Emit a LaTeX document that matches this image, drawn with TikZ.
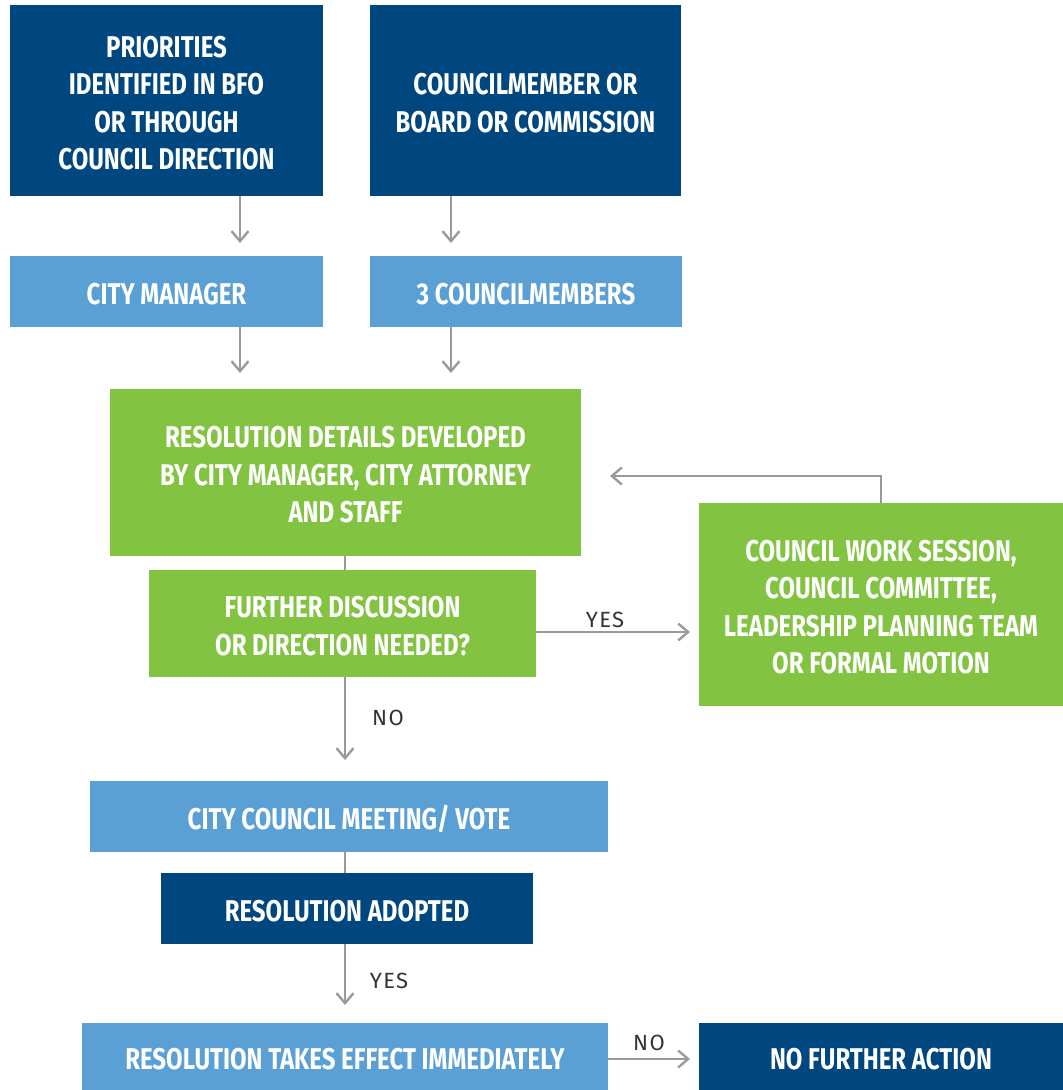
\documentclass[tikz,border=0pt]{standalone}
\usepackage{fontspec}
\setmainfont{Fira Sans}[FakeStretch=0.8]
\newfontfamily\notefont{Fira Sans}[LetterSpace=6]
\usetikzlibrary{arrows.meta}
\definecolor{navy}{HTML}{00467F}
\definecolor{sky}{HTML}{5AA0D5}
\definecolor{leaf}{HTML}{82C341}
\definecolor{wire}{HTML}{9A9A9A}
\definecolor{note}{HTML}{333333}
\tikzset{
  box/.style={rectangle, inner sep=0pt, outer sep=0pt, text=white, align=center,
    font=\bfseries\fontsize{30}{37.5}\selectfont},
  % text block of #1 lines (37.5pt pitch, cap height 20.7pt), set slightly below centre
  lines/.style={text height={(#1-1)*37.5pt+25.7pt}, text depth=0pt},
  navybox/.style={box, fill=navy},
  skybox/.style={box, fill=sky},
  leafbox/.style={box, fill=leaf},
  arr/.style={draw=wire, line width=2.4pt, -{Straight Barb[length=10pt,width=17pt,line width=2.4pt]}},
  link/.style={draw=wire, line width=2.4pt},
  lbl/.style={text=note, inner sep=0pt, font=\notefont\fontsize{22}{26}\selectfont}
}
\begin{document}
\begin{tikzpicture}[x=1pt,y=-1pt]
\useasboundingbox (0,0) rectangle (1063,1090);

% top row
\node[navybox, lines=4, minimum width=313pt, minimum height=191pt] (A) at (166.5,100.5)
  {PRIORITIES\\IDENTIFIED IN BFO\\OR THROUGH\\COUNCIL DIRECTION};
\node[navybox, lines=2, minimum width=311pt, minimum height=191pt] (B) at (525.5,100.5)
  {COUNCILMEMBER OR\\BOARD OR COMMISSION};

% second row
\node[skybox, lines=1, minimum width=313pt, minimum height=71pt] (C) at (166.5,291.5) {CITY MANAGER};
\node[skybox, lines=1, minimum width=312pt, minimum height=71pt] (D) at (526,291.5) {3 COUNCILMEMBERS};

% green block
\node[leafbox, lines=3, minimum width=471pt, minimum height=167pt] (E) at (345.5,472.5)
  {RESOLUTION DETAILS DEVELOPED\\BY CITY MANAGER, CITY ATTORNEY\\AND STAFF};
\node[leafbox, lines=2, minimum width=387pt, minimum height=107pt] (F) at (342.5,623.5)
  {FURTHER DISCUSSION\\OR DIRECTION NEEDED?};
\node[leafbox, lines=4, minimum width=364pt, minimum height=203pt] (G) at (881,604.5)
  {COUNCIL WORK SESSION,\\COUNCIL COMMITTEE,\\LEADERSHIP PLANNING TEAM\\OR FORMAL MOTION};

% lower chain
\node[skybox, lines=1, minimum width=518pt, minimum height=71pt] (H) at (349,816.5) {CITY COUNCIL MEETING/ VOTE};
\node[navybox, lines=1, minimum width=372pt, minimum height=71pt] (I) at (347,908.5) {RESOLUTION ADOPTED};
\node[skybox, lines=1, minimum width=526pt, minimum height=67pt] (J) at (345,1056.5) {RESOLUTION TAKES EFFECT IMMEDIATELY};
\node[navybox, lines=1, minimum width=364pt, minimum height=67pt] (K) at (881,1056.5) {NO FURTHER ACTION};

% arrow end points
\coordinate (ta) at (240,243);
\coordinate (tb) at (451,243);
\coordinate (ma) at (240,373);
\coordinate (mb) at (451,373);
\coordinate (back) at (610,476);
\coordinate (yes) at (690,632);
\coordinate (no) at (345,760);
\coordinate (adopt) at (345,1005);
\coordinate (stop) at (690,1059);

% connectors
\draw[arr] (ta |- A.south) -- (ta);
\draw[arr] (tb |- B.south) -- (tb);
\draw[arr] (ma |- C.south) -- (ma);
\draw[arr] (mb |- D.south) -- (mb);
\draw[link] (no |- E.south) -- (no |- F.north);
\draw[arr] (F.east |- yes) -- (yes);
\draw[arr] (G.north) -- (G.north |- back) -- (back);
\draw[arr] (no |- F.south) -- (no);
\draw[link] (no |- H.south) -- (no |- I.north);
\draw[arr] (adopt |- I.south) -- (adopt);
\draw[arr] (J.east |- stop) -- (stop);

% branch labels
\node[lbl] (l1) at (605,620) {YES};
\node[lbl] (l2) at (388,718) {NO};
\node[lbl] (l3) at (389,981) {YES};
\node[lbl] (l4) at (649,1043) {NO};
\end{tikzpicture}
\end{document}
